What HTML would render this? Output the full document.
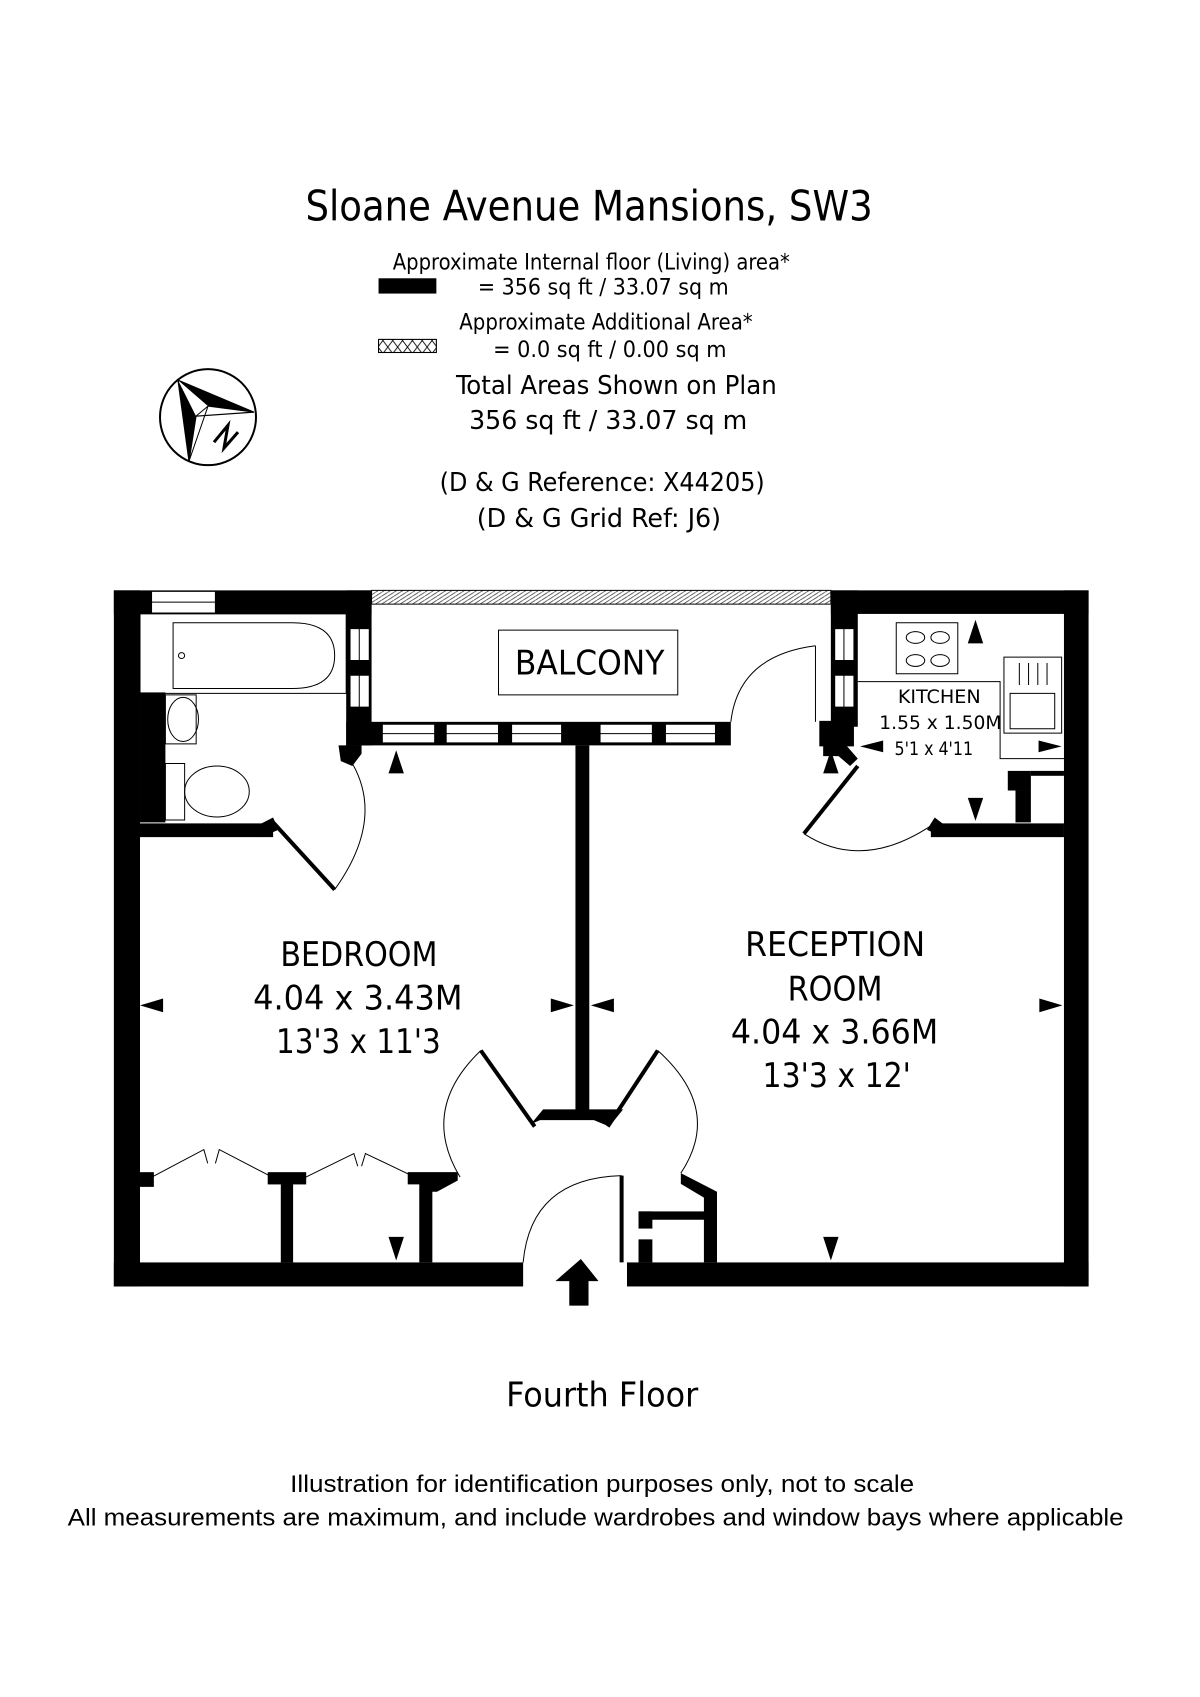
<!DOCTYPE html>
<html><head><meta charset="utf-8">
<style>
html,body{margin:0;padding:0;background:#fff;}
svg{display:block;}
.t{font-family:"DejaVu Sans Condensed","DejaVu Sans","Liberation Sans",sans-serif;fill:#000;}
.a{font-family:"Liberation Sans",sans-serif;fill:#000;}
</style></head>
<body>
<svg width="1200" height="1697" viewBox="0 0 1100 1555" preserveAspectRatio="none" xmlns="http://www.w3.org/2000/svg">
<defs>
<pattern id="hx" width="8" height="8" patternUnits="userSpaceOnUse"><path d="M0,8 L8,0" stroke="#000" stroke-width="1"/></pattern>
<pattern id="xx" width="9" height="12" patternUnits="userSpaceOnUse"><path d="M0,0 L9,12 M9,0 L0,12" stroke="#000" stroke-width="0.8"/></pattern>
</defs>
<rect width="1100" height="1555" fill="#fff"/>
<!-- header -->
<text class="t" x="280" y="202" font-size="38" textLength="520" lengthAdjust="spacingAndGlyphs">Sloane Avenue Mansions, SW3</text>
<text class="t" x="360" y="247" font-size="20" textLength="364" lengthAdjust="spacingAndGlyphs">Approximate Internal floor (Living) area*</text>
<rect x="347" y="255" width="53" height="14" fill="#000"/>
<text class="t" x="438" y="270" font-size="20" textLength="230" lengthAdjust="spacingAndGlyphs">= 356 sq ft / 33.07 sq m</text>
<text class="t" x="421" y="302" font-size="20" textLength="269" lengthAdjust="spacingAndGlyphs">Approximate Additional Area*</text>
<rect x="347" y="311" width="53" height="12" fill="url(#xx)" stroke="#000" stroke-width="1"/>
<text class="t" x="452" y="327" font-size="20" textLength="214" lengthAdjust="spacingAndGlyphs">= 0.0 sq ft / 0.00 sq m</text>
<text class="t" x="418" y="361" font-size="24" textLength="294" lengthAdjust="spacingAndGlyphs">Total Areas Shown on Plan</text>
<text class="t" x="430" y="393" font-size="24" textLength="255" lengthAdjust="spacingAndGlyphs">356 sq ft  / 33.07 sq m</text>
<text class="t" x="403" y="450" font-size="24" textLength="298" lengthAdjust="spacingAndGlyphs">(D &amp; G Reference: X44205)</text>
<text class="t" x="437" y="483" font-size="24" textLength="224" lengthAdjust="spacingAndGlyphs">(D &amp; G Grid Ref: J6)</text>
<!-- compass -->
<g transform="scale(0.91667)">
<circle cx="208" cy="417" r="48" fill="none" stroke="#000" stroke-width="2"/>
<polygon points="178,380 254,412 208,406" fill="#000"/>
<polygon points="178,380 196,416 189,461" fill="#000"/>
<polygon points="178,380 254,412 196,416 189,461" fill="none" stroke="#000" stroke-width="1.2"/>
<path d="M196,416 L208,406 L254,412 M208,406 L189,461" fill="none" stroke="#000" stroke-width="1"/>
<path d="M214,442 L228,425 L224,448 L238,432" fill="none" stroke="#000" stroke-width="3"/>
</g>
<!-- plan in zoom coords -->
<g transform="translate(0,517.6) scale(0.7052,0.4495)">
<g fill="#000">
<rect x="148" y="52" width="335" height="48"/>
<rect x="1080" y="52" width="335" height="48"/>
<rect x="148" y="52" width="34" height="1419"/>
<rect x="182" y="260" width="33" height="265"/>
<rect x="1383" y="52" width="32" height="1419"/>
<rect x="148" y="1422" width="532" height="49"/>
<rect x="815" y="1422" width="600" height="49"/>
<rect x="450" y="52" width="33" height="316"/>
<rect x="1080" y="52" width="35" height="278"/>
<rect x="1065" y="318" width="45" height="52"/>
<rect x="450" y="320" width="500" height="48"/>
<rect x="748" y="368" width="18" height="745"/>
<polygon points="690,1140 706,1110 810,1110 792,1145 772,1132 702,1132"/>
<rect x="182" y="527" width="173" height="28"/>
<polygon points="340,527 355,515 362,540 340,555"/>
<rect x="1210" y="527" width="173" height="28"/>
<polygon points="1205,540 1215,515 1225,527 1225,555"/>
<polygon points="440,368 470,368 470,385 458,410 443,400"/>
<polygon points="1070,368 1100,368 1115,395 1105,410 1090,390 1070,390"/>
<rect x="1310" y="420" width="30" height="40"/>
<rect x="1320" y="460" width="20" height="65"/>
<rect x="1340" y="420" width="43" height="10"/>
<rect x="182" y="1238" width="18" height="30"/>
<rect x="348" y="1238" width="50" height="25"/>
<rect x="365" y="1255" width="16" height="167"/>
<polygon points="530,1238 595,1238 595,1255 568,1278 562,1278 562,1422 545,1422 545,1263 530,1263"/>
<polygon points="885,1240 932,1278 932,1422 915,1422 915,1290 885,1262"/>
<rect x="830" y="1318" width="100" height="17"/>
<rect x="830" y="1318" width="18" height="35"/>
<rect x="830" y="1375" width="18" height="47"/>
<!-- arrows -->
<polygon points="505,425 525,425 515,378"/>
<polygon points="1070,425 1090,425 1080,378"/>
<polygon points="1258,160 1278,160 1268,112"/>
<polygon points="1118,370 1148,358 1148,382"/>
<polygon points="1380,370 1350,358 1350,382"/>
<polygon points="1258,475 1278,475 1268,522"/>
<polygon points="182,898 212,884 212,912"/>
<polygon points="746,898 716,884 716,912"/>
<polygon points="768,898 798,884 798,912"/>
<polygon points="1381,898 1351,884 1351,912"/>
<polygon points="505,1370 525,1370 515,1418"/>
<polygon points="1070,1370 1090,1370 1080,1418"/>
<polygon points="755,1415 722,1460 740,1460 740,1510 765,1510 765,1460 778,1460"/>
</g>
<!-- top window left -->
<rect x="197" y="54" width="83" height="44" fill="#fff" stroke="#000" stroke-width="1" vector-effect="non-scaling-stroke"/>
<line x1="197" y1="76" x2="280" y2="76" stroke="#000" stroke-width="1" vector-effect="non-scaling-stroke"/>
<!-- balcony hatch -->
<rect x="483" y="52" width="597" height="28" fill="url(#hx)" stroke="#000" stroke-width="1" vector-effect="non-scaling-stroke"/>
<g fill="#fff" stroke="#000" stroke-width="1">
<rect x="455" y="130" width="25" height="65" vector-effect="non-scaling-stroke"/>
<rect x="455" y="225" width="25" height="65" vector-effect="non-scaling-stroke"/>
<rect x="1085" y="130" width="25" height="65" vector-effect="non-scaling-stroke"/>
<rect x="1085" y="225" width="25" height="65" vector-effect="non-scaling-stroke"/>
<rect x="497" y="325" width="68" height="38" vector-effect="non-scaling-stroke"/>
<rect x="580" y="325" width="68" height="38" vector-effect="non-scaling-stroke"/>
<rect x="665" y="325" width="65" height="38" vector-effect="non-scaling-stroke"/>
<rect x="780" y="325" width="68" height="38" vector-effect="non-scaling-stroke"/>
<rect x="865" y="325" width="65" height="38" vector-effect="non-scaling-stroke"/>
</g>
<g stroke="#000" stroke-width="1" fill="none">
<path d="M497,344H565M580,344H648M665,344H730M780,344H848M865,344H930M467,130V195M467,225V290M1097,130V195M1097,225V290" vector-effect="non-scaling-stroke"/>
<rect x="648" y="133" width="233" height="132" vector-effect="non-scaling-stroke"/>
<rect x="182" y="100" width="268" height="162" vector-effect="non-scaling-stroke"/>
<path d="M225,118 H380 Q435,118 435,185 Q435,252 380,252 H225 Z" vector-effect="non-scaling-stroke"/>
<ellipse cx="236" cy="185" rx="4" ry="6" vector-effect="non-scaling-stroke"/>
<rect x="215" y="265" width="40" height="100" vector-effect="non-scaling-stroke"/>
<ellipse cx="238" cy="315" rx="20" ry="45" vector-effect="non-scaling-stroke"/>
<rect x="215" y="405" width="25" height="115" vector-effect="non-scaling-stroke"/>
<ellipse cx="282" cy="462" rx="42" ry="52" vector-effect="non-scaling-stroke"/>
<rect x="1165" y="118" width="80" height="104" vector-effect="non-scaling-stroke"/>
<circle cx="1190" cy="148" r="12" vector-effect="non-scaling-stroke"/>
<circle cx="1222" cy="148" r="12" vector-effect="non-scaling-stroke"/>
<circle cx="1190" cy="195" r="12" vector-effect="non-scaling-stroke"/>
<circle cx="1222" cy="195" r="12" vector-effect="non-scaling-stroke"/>
<rect x="1305" y="188" width="75" height="155" vector-effect="non-scaling-stroke"/>
<rect x="1313" y="262" width="58" height="72" vector-effect="non-scaling-stroke"/>
<path d="M1325,200V245M1337,200V245M1349,200V245M1361,200V245" vector-effect="non-scaling-stroke"/>
<path d="M1115,238 H1300 V395 H1383" vector-effect="non-scaling-stroke"/>
<path d="M435,662 Q500,520 458,405" vector-effect="non-scaling-stroke"/>
<path d="M1045,548 Q1120,625 1210,532" vector-effect="non-scaling-stroke"/>
<path d="M1060,165 Q960,185 950,320" vector-effect="non-scaling-stroke"/>
<path d="M1060,165 V320" vector-effect="non-scaling-stroke"/>
<path d="M808,1245 Q690,1250 680,1422" vector-effect="non-scaling-stroke"/>
<path d="M625,990 Q545,1110 598,1248" vector-effect="non-scaling-stroke"/>
<path d="M855,990 Q940,1110 885,1240" vector-effect="non-scaling-stroke"/>
<path d="M195,1250 L265,1192 L270,1220 M280,1220 L285,1192 L350,1245" vector-effect="non-scaling-stroke"/>
<path d="M395,1250 L460,1200 L465,1226 M470,1226 L475,1200 L535,1245" vector-effect="non-scaling-stroke"/>
</g>
<g stroke="#000" stroke-width="4" fill="none">
<path d="M355,525 L435,662" vector-effect="non-scaling-stroke"/>
<path d="M1115,410 L1045,548" vector-effect="non-scaling-stroke"/>
<path d="M625,990 L695,1145" vector-effect="non-scaling-stroke"/>
<path d="M855,990 L790,1145" vector-effect="non-scaling-stroke"/>
<path d="M808,1245 V1422" vector-effect="non-scaling-stroke"/>
</g>
</g>
<!-- plan text -->
<text class="t" x="472" y="618" font-size="31" textLength="137" lengthAdjust="spacingAndGlyphs">BALCONY</text>
<text class="t" x="823" y="644" font-size="17" textLength="76" lengthAdjust="spacingAndGlyphs">KITCHEN</text>
<text class="t" x="806" y="668" font-size="17" textLength="112" lengthAdjust="spacingAndGlyphs">1.55 x 1.50M</text>
<text class="t" x="820" y="692" font-size="17" textLength="72" lengthAdjust="spacingAndGlyphs">5'1 x 4'11</text>
<text class="t" x="257" y="885" font-size="31" textLength="144" lengthAdjust="spacingAndGlyphs">BEDROOM</text>
<text class="t" x="232" y="925" font-size="31" textLength="192" lengthAdjust="spacingAndGlyphs">4.04 x 3.43M</text>
<text class="t" x="253" y="965" font-size="31" textLength="151" lengthAdjust="spacingAndGlyphs">13'3 x 11'3</text>
<text class="t" x="683" y="876" font-size="31" textLength="165" lengthAdjust="spacingAndGlyphs">RECEPTION</text>
<text class="t" x="722" y="917" font-size="31" textLength="87" lengthAdjust="spacingAndGlyphs">ROOM</text>
<text class="t" x="670" y="956" font-size="31" textLength="190" lengthAdjust="spacingAndGlyphs">4.04 x 3.66M</text>
<text class="t" x="699" y="996" font-size="31" textLength="136" lengthAdjust="spacingAndGlyphs">13'3 x 12'</text>
<!-- footer -->
<text class="t" x="464" y="1289" font-size="31" textLength="176" lengthAdjust="spacingAndGlyphs">Fourth Floor</text>
<text class="a" x="266" y="1367" font-size="22" textLength="572" lengthAdjust="spacingAndGlyphs">Illustration for identification purposes only, not to scale</text>
<text class="a" x="62" y="1398" font-size="22" textLength="968" lengthAdjust="spacingAndGlyphs">All measurements are maximum, and include wardrobes and window bays where applicable</text>
</svg>
</body></html>
